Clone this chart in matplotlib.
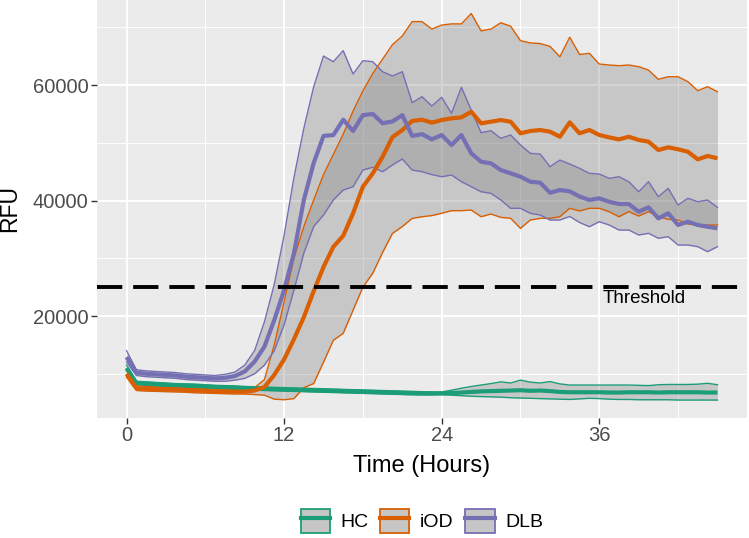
import numpy as np
import matplotlib
matplotlib.use("Agg")
import matplotlib.pyplot as plt
from matplotlib.patches import Patch
from matplotlib.lines import Line2D
from matplotlib.legend_handler import HandlerTuple

plt.rcParams['font.family'] = ['Liberation Sans', 'DejaVu Sans']

# readings every 45 minutes, 0 to 45 h
hours = np.arange(61) * 0.75

hc_mean = [11000, 8400, 8300, 8200, 8100, 8000, 7950, 7900, 7800, 7700,
           7650, 7600, 7500, 7450, 7400, 7350, 7300, 7250, 7200, 7150,
           7100, 7050, 7000, 6950, 6900, 6850, 6800, 6750, 6700, 6650,
           6600, 6600, 6600, 6650, 6750, 6850, 6950, 7000, 7050, 7100,
           7150, 7050, 7100, 7000, 6850, 6800, 6800, 6800, 6800, 6750,
           6750, 6800, 6800, 6800, 6750, 6800, 6800, 6800, 6800, 6750, 6750]
hc_upper = [11500, 8700, 8600, 8500, 8400, 8300, 8250, 8200, 8100, 8000,
            7950, 7900, 7800, 7750, 7700, 7650, 7600, 7550, 7500, 7450,
            7400, 7350, 7300, 7250, 7200, 7150, 7100, 7050, 7000, 6950,
            6900, 6850, 6850, 7150, 7500, 7800, 8050, 8300, 8600, 8400,
            8900, 8550, 8400, 8650, 8250, 8050, 8050, 8050, 8050, 8050,
            8050, 8050, 8000, 7950, 8100, 8150, 8150, 8150, 8200, 8350, 8100]
hc_lower = [10500, 8100, 8000, 7900, 7800, 7700, 7650, 7600, 7500, 7400,
            7350, 7300, 7200, 7150, 7100, 7050, 7000, 6950, 6900, 6850,
            6800, 6750, 6700, 6650, 6600, 6550, 6500, 6450, 6400, 6350,
            6350, 6350, 6400, 6300, 6200, 6100, 6050, 6000, 5950, 5850,
            5800, 5750, 5700, 5650, 5600, 5550, 5650, 5750, 5700, 5600,
            5550, 5550, 5500, 5500, 5500, 5500, 5450, 5450, 5450, 5450, 5450]

iod_mean = [10000, 7500, 7400, 7350, 7300, 7250, 7200, 7100, 7050, 7000,
            6950, 6900, 6900, 7100, 7700, 9800, 12500, 16000, 19800, 24300,
            28500, 32000, 33900, 37800, 42400, 44700, 47600, 51000, 52200, 53800,
            54000, 53500, 53950, 54240, 54410, 55390, 53380, 53660, 53950, 53660,
            51650, 52050, 52220, 51930, 51060, 53550, 51650, 52220, 51360, 50950,
            50600, 51060, 50490, 50200, 48760, 49220, 48880, 48460, 47140, 47720, 47320]
iod_upper = [10600, 7900, 7800, 7700, 7650, 7600, 7500, 7400, 7350, 7300,
             7250, 7200, 7300, 7600, 9000, 15000, 22500, 30000, 35500, 40100,
             44500, 48000, 51500, 55500, 59000, 62000, 64500, 67000, 68500, 71000,
             71000, 69700, 70400, 70600, 70600, 72400, 69400, 69700, 70800, 70200,
             67700, 67300, 67200, 66700, 64900, 68300, 65300, 65500, 63650, 63480,
             63360, 63480, 63190, 62610, 61000, 61450, 61450, 60590, 59030, 59720, 58850]
iod_lower = [9400, 7100, 7000, 6950, 6900, 6850, 6800, 6700, 6650, 6600,
             6550, 6500, 6500, 6400, 6300, 5600, 5500, 5700, 7600, 8300,
             12000, 15800, 17000, 21000, 25000, 27400, 31000, 34300, 35500, 36900,
             37200, 37400, 37790, 38250, 38250, 38360, 37200, 37670, 37090, 36920,
             35190, 36630, 36920, 36920, 37200, 38660, 38200, 38660, 38660, 38080,
             37200, 38080, 37320, 38080, 37200, 36750, 36630, 35940, 35770, 35770, 35770]

dlb_mean = [12900, 10200, 10000, 9900, 9800, 9700, 9500, 9400, 9300, 9200,
            9300, 9600, 10400, 12100, 14700, 19300, 24500, 30900, 40100, 46500,
            51200, 51350, 54000, 52050, 54800, 55000, 53400, 53700, 54800, 51200,
            51500, 50600, 51350, 49620, 51350, 48180, 46730, 46450, 45290, 44720,
            44130, 43270, 43100, 41360, 41830, 41600, 40700, 40100, 40390, 39800,
            39400, 39400, 38080, 38830, 36920, 37790, 35770, 36340, 35770, 35470, 35190]
dlb_upper = [14000, 10700, 10500, 10400, 10300, 10200, 10000, 9900, 9800, 9700,
             9900, 10300, 11500, 14000, 19000, 25500, 34000, 44000, 52500, 59700,
             65040, 64050, 65960, 61920, 64230, 64050, 62320, 61570, 62320, 56950,
             57990, 56380, 57880, 55110, 59610, 55680, 51760, 52100, 50780, 51350,
             49620, 48180, 48060, 45860, 47020, 46330, 45580, 44720, 44600, 43850,
             44130, 43270, 41530, 43270, 40670, 42120, 39230, 40390, 39800, 40100, 38830]
dlb_lower = [12000, 9700, 9500, 9400, 9300, 9200, 9000, 8900, 8800, 8700,
             8700, 8900, 9200, 10000, 11500, 14000, 18500, 24500, 30900, 35500,
             37500, 40100, 41830, 42400, 45290, 45760, 45000, 46160, 47200, 45290,
             45000, 44500, 44130, 44430, 43270, 42400, 41530, 41250, 40100, 38660,
             38660, 37790, 37500, 36630, 36630, 37250, 36200, 35470, 36340, 35770,
             34900, 34900, 34030, 34330, 33460, 33750, 32300, 32300, 32010, 31140, 32010]

groups = ['HC', 'iOD', 'DLB']
colors = {'HC': '#1B9E77', 'iOD': '#D95F02', 'DLB': '#7570B3'}
series = {
    'HC': (hc_mean, hc_lower, hc_upper),
    'iOD': (iod_mean, iod_lower, iod_upper),
    'DLB': (dlb_mean, dlb_lower, dlb_upper),
}
threshold = 25000

fig = plt.figure(figsize=(7.49, 5.38), dpi=100)
ax = fig.add_axes([97 / 749, 1 - 418 / 538, 650 / 749, 418 / 538])
ax.set_facecolor('#EBEBEB')
for s in ax.spines.values():
    s.set_visible(False)

# grid like ggplot
ax.set_xticks([0, 12, 24, 36])
ax.set_yticks([20000, 40000, 60000])
ax.set_xticks([6, 18, 30, 42], minor=True)
ax.set_yticks([10000, 30000, 50000, 70000], minor=True)
ax.grid(True, which='major', color='white', linewidth=1.4)
ax.grid(True, which='minor', color='white', linewidth=0.7)
ax.set_axisbelow(True)
ax.tick_params(which='minor', length=0)
ax.tick_params(which='major', length=4, width=1, color='#333333',
               labelcolor='#4D4D4D', labelsize=14.5, pad=2)

for g in groups:
    mean, lo, hi = series[g]
    ax.fill_between(hours, lo, hi, color='#7F7F7F', alpha=0.33, linewidth=0)

for g in groups:
    mean, lo, hi = series[g]
    ax.plot(hours, lo, color=colors[g], linewidth=1.0)
    ax.plot(hours, hi, color=colors[g], linewidth=1.0)

for g in groups:
    mean, lo, hi = series[g]
    ax.plot(hours, mean, color=colors[g], linewidth=3.0, solid_capstyle='butt')

ax.axhline(threshold, color='black', linewidth=2.8, dashes=(6.5, 2.8))
ax.text(39.4, 23100, 'Threshold', ha='center', va='center', fontsize=13.5, color='black')

ax.set_xlim(-2.25, 47.25)
ax.set_ylim(2340, 74740)

ax.set_xlabel('Time (Hours)', fontsize=17, va='top')
ax.xaxis.set_label_coords(0.5, -0.088)
ax.set_ylabel('RFU', fontsize=16.5)
ax.yaxis.set_label_coords(-0.116, 0.5)

handles = []
for g in groups:
    box = Patch(facecolor='#C6C6C6', edgecolor=colors[g], linewidth=1.3)
    ln = Line2D([], [], color=colors[g], linewidth=3.0)
    handles.append((box, ln))
fig.legend(handles, groups, handler_map={tuple: HandlerTuple(ndivide=1)},
           loc='center', bbox_to_anchor=(422 / 749, 17 / 538), ncol=3,
           frameon=False, fontsize=14, handlelength=1.5, handleheight=1.5,
           handletextpad=0.55, columnspacing=0.6, borderpad=0)

fig.savefig('out.png', dpi=100)
